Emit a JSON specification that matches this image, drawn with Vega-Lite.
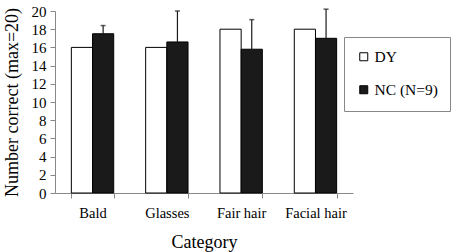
{
  "$schema": "https://vega.github.io/schema/vega-lite/v6.json",
  "autosize": {"type": "none"},
  "padding": {"left": 55, "top": 11, "right": 101, "bottom": 59},
  "width": 298,
  "height": 182,
  "background": "white",
  "config": {
    "font": "Liberation Serif",
    "view": {"stroke": null},
    "style": {"guide-label": {"font": "Liberation Serif"}, "guide-title": {"font": "Liberation Serif"}},
    "axis": {"domainColor": "#888888", "tickColor": "#888888", "labelColor": "black", "titleColor": "black", "grid": false, "labelFont": "Liberation Serif", "titleFont": "Liberation Serif", "titleFontWeight": "normal", "labelOverlap": false},
    "axisY": {"labelFontSize": 15, "titleFontSize": 18, "tickSize": 5, "labelPadding": 4, "titlePadding": 10, "labelFont": "Liberation Serif"}
  },
  "data": {
    "values": [
      {"category": "Bald", "group": "DY", "value": 16},
      {"category": "Bald", "group": "NC (N=9)", "value": 17.5, "upper": 18.4},
      {"category": "Glasses", "group": "DY", "value": 16},
      {"category": "Glasses", "group": "NC (N=9)", "value": 16.6, "upper": 20},
      {"category": "Fair hair", "group": "DY", "value": 18},
      {"category": "Fair hair", "group": "NC (N=9)", "value": 15.8, "upper": 19.05},
      {"category": "Facial hair", "group": "DY", "value": 18},
      {"category": "Facial hair", "group": "NC (N=9)", "value": 17, "upper": 20.2}
    ]
  },
  "encoding": {
    "x": {
      "field": "category", "type": "nominal", "sort": ["Bald", "Glasses", "Fair hair", "Facial hair"],
      "scale": {"paddingInner": 0.43, "paddingOuter": 0.22},
      "axis": {"title": "Category", "labelAngle": 0, "labelFontSize": 14.5, "labelFont": "Liberation Serif", "titleFontSize": 18, "labelPadding": 8, "titlePadding": 14, "tickBand": "extent", "tickSize": 5}
    },
    "xOffset": {"field": "group", "type": "nominal", "sort": ["DY", "NC (N=9)"]}
  },
  "layer": [
    {
      "mark": {"type": "bar", "stroke": "black", "strokeWidth": 1},
      "encoding": {
        "y": {
          "field": "value", "type": "quantitative",
          "scale": {"domain": [0, 20], "nice": false},
          "axis": {"title": "Number correct (max=20)", "values": [0,2,4,6,8,10,12,14,16,18,20]}
        },
        "fill": {
          "field": "group", "type": "nominal",
          "scale": {"domain": ["DY", "NC (N=9)"], "range": ["white", "#1a1a1a"]},
          "legend": {
            "title": null, "orient": "none", "legendX": 289, "legendY": 26,
            "symbolType": "square", "symbolSize": 64, "symbolStrokeColor": "black", "symbolStrokeWidth": 1,
            "labelFontSize": 15.5, "labelFont": "Liberation Serif", "labelColor": "black",
            "rowPadding": 16, "padding": 12, "strokeColor": "#888888", "fillColor": "white",
            "labelOffset": 3
          }
        }
      }
    },
    {
      "transform": [{"filter": "datum.upper != null"}],
      "mark": {"type": "rule", "color": "#1a1a1a", "strokeWidth": 1.2},
      "encoding": {
        "y": {"field": "value", "type": "quantitative", "axis": {"title": "Number correct (max=20)", "values": [0,2,4,6,8,10,12,14,16,18,20]}},
        "y2": {"field": "upper"}
      }
    },
    {
      "transform": [{"filter": "datum.upper != null"}],
      "mark": {"type": "tick", "color": "#1a1a1a", "thickness": 1.5, "size": 5},
      "encoding": {
        "y": {"field": "upper", "type": "quantitative", "axis": {"title": "Number correct (max=20)", "values": [0,2,4,6,8,10,12,14,16,18,20]}}
      }
    }
  ]
}
